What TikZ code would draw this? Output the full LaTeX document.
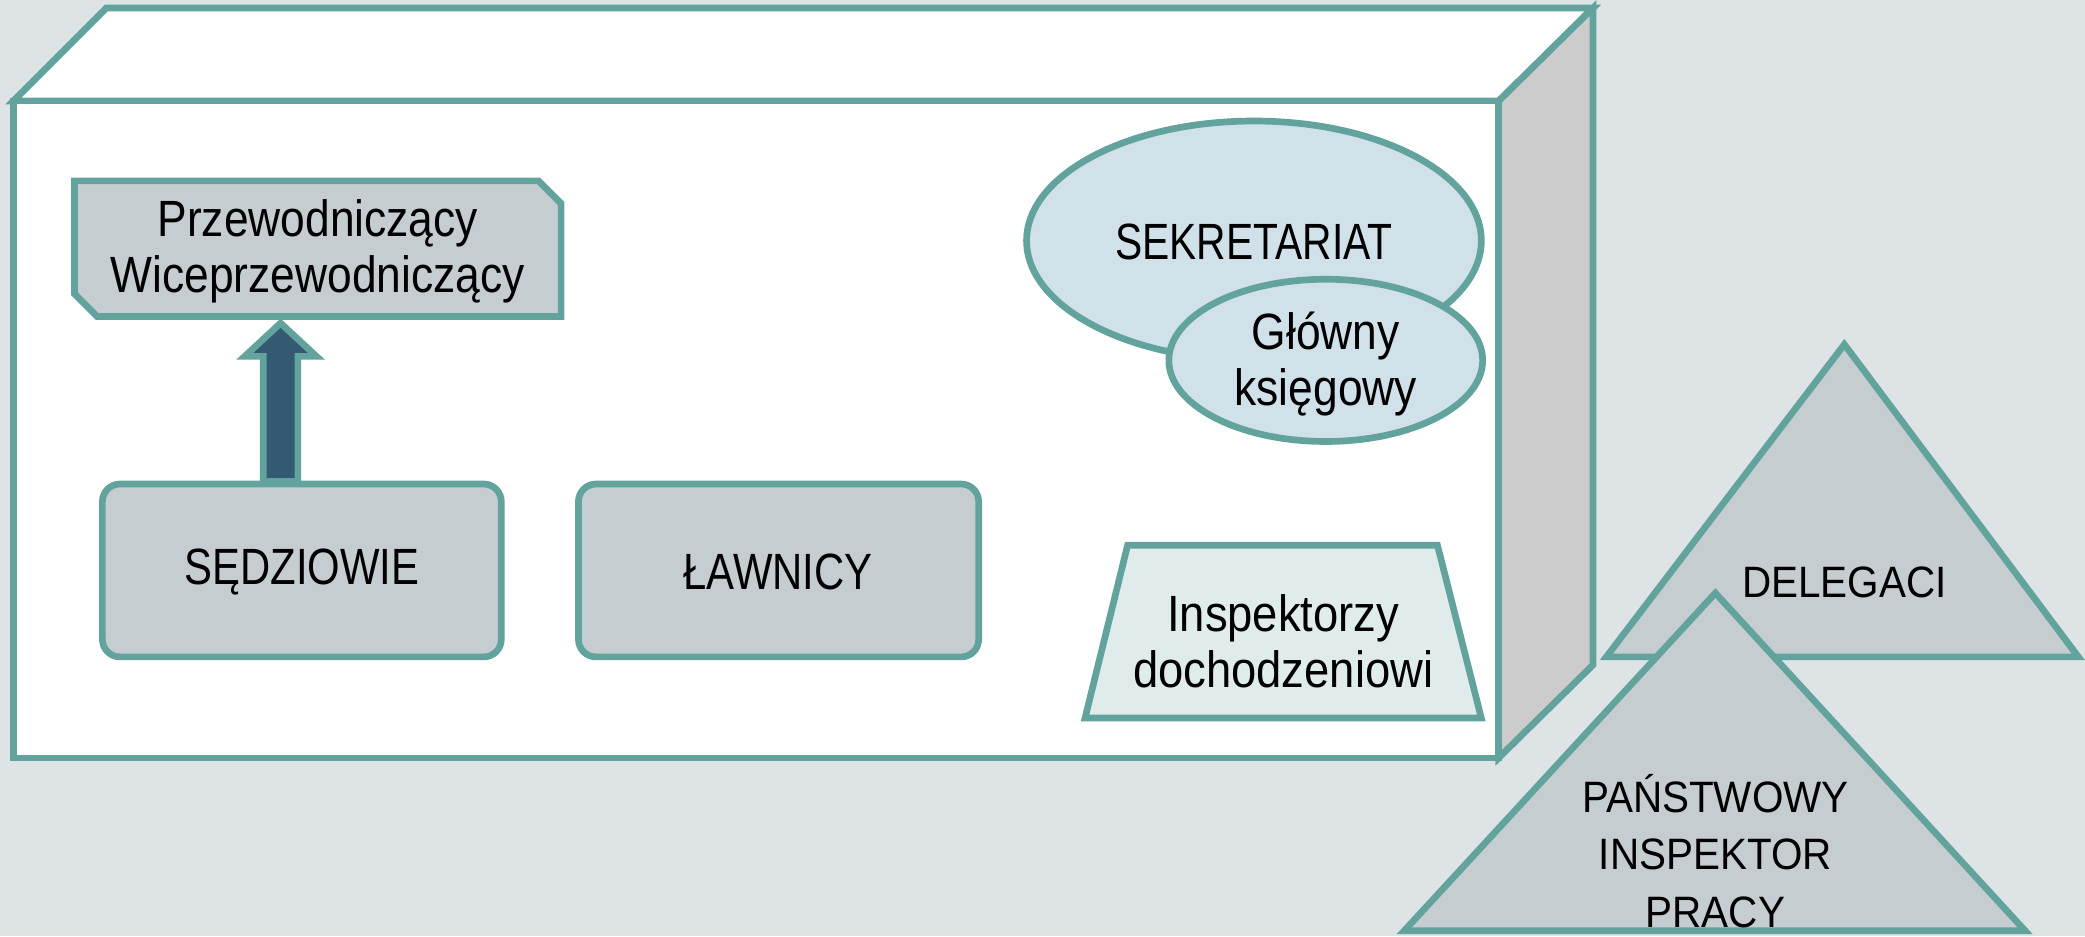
\documentclass[tikz,border=0pt]{standalone}
\usepackage{fontspec}
\setmainfont{Liberation Sans}
\newfontfamily\narrowfont[FakeStretch=0.8]{Liberation Sans}
\newfontfamily\przfont[FakeStretch=0.87]{Liberation Sans}
\newfontfamily\inspfont[FakeStretch=0.89]{Liberation Sans}
\newfontfamily\midfont[FakeStretch=0.82]{Liberation Sans}
\newfontfamily\widefont[FakeStretch=0.92]{Liberation Sans}
\definecolor{edgeteal}{HTML}{63A39E}
\definecolor{bgray}{HTML}{DEE3E6}
\definecolor{boxgray}{HTML}{C5CDD1}
\definecolor{sidegray}{HTML}{CCCCCC}
\definecolor{ellfill}{HTML}{D0E1EA}
\definecolor{trapfill}{HTML}{E0ECEC}
\definecolor{arrowblue}{HTML}{335A72}
\begin{document}
\begin{tikzpicture}[x=0.013297cm,y=-0.013297cm,
  outline/.style={draw=edgeteal, line width=1.9pt, line join=miter},
  narrowtxt/.style={font=\narrowfont\fontsize{14.5}{16}\selectfont, align=center, inner sep=0pt},
  przetxt/.style={font=\przfont\fontsize{14.5}{16}\selectfont, align=center, inner sep=0pt},
  insptxt/.style={font=\inspfont\fontsize{14.5}{16}\selectfont, align=center, inner sep=0pt},
  boxtxt/.style={font=\midfont\fontsize{14.5}{16}\selectfont, align=center, inner sep=0pt},
  widetxt/.style={font=\widefont\fontsize{12.5}{16.3}\selectfont, align=center, inner sep=0pt}]
% background
\fill[bgray] (0,0) rectangle (1568,704);
\useasboundingbox (0,0) rectangle (1568,704);
% box
\draw[outline, fill=white] (10,76) -- (80,6) -- (1198,6) -- (1127,76) -- cycle;
\draw[outline, fill=sidegray] (1127,76) -- (1198,6) -- (1198,500) -- (1127,570) -- cycle;
\draw[outline, fill=white] (10,76) rectangle (1127,570);
% Przewodniczacy
\draw[outline, fill=boxgray] (56,136) -- (405,136) -- (422,153) -- (422,238) -- (73,238) -- (56,221) -- cycle;
\node[przetxt] (przew) at (239,189) {Przewodniczący\\Wiceprzewodniczący};
% Sedziowie and Lawnicy
\draw[outline, fill=boxgray, rounded corners=5pt] (77,364) rectangle (377,494);
\node[boxtxt] (sedz) at (227,430) {SĘDZIOWIE};
\draw[outline, fill=boxgray, rounded corners=5pt] (435,364) rectangle (736,494);
\node[boxtxt] (lawn) at (585,430) {ŁAWNICY};
% arrow
\draw[outline, fill=arrowblue] (198,362) -- (198,268) -- (184,268) -- (211,243) -- (238,268) -- (224,268) -- (224,362) -- cycle;
% Sekretariat
\draw[outline, fill=ellfill] (943,181) ellipse [x radius=171, y radius=90];
\node[narrowtxt] (sekr) at (943,182) {SEKRETARIAT};
\draw[outline, fill=ellfill] (997,271) ellipse [x radius=118, y radius=61];
\node[przetxt] (ksieg) at (997,274) {Główny\\księgowy};
% Inspektorzy
\draw[outline, fill=trapfill] (816,540) -- (848,410) -- (1081,410) -- (1114,540) -- cycle;
\node[insptxt] (insp) at (965,482) {Inspektorzy\\dochodzeniowi};
% Delegaci
\draw[outline, fill=boxgray] (1208,494) -- (1387,259) -- (1563,494) -- cycle;
\node[widetxt] (deleg) at (1387,438) {DELEGACI};
% PIP
\draw[outline, fill=boxgray] (1056,700) -- (1290,446) -- (1523,700) -- cycle;
\node[widetxt] (pip) at (1290,640) {PAŃSTWOWY\\INSPEKTOR\\PRACY};
\end{tikzpicture}
\end{document}
